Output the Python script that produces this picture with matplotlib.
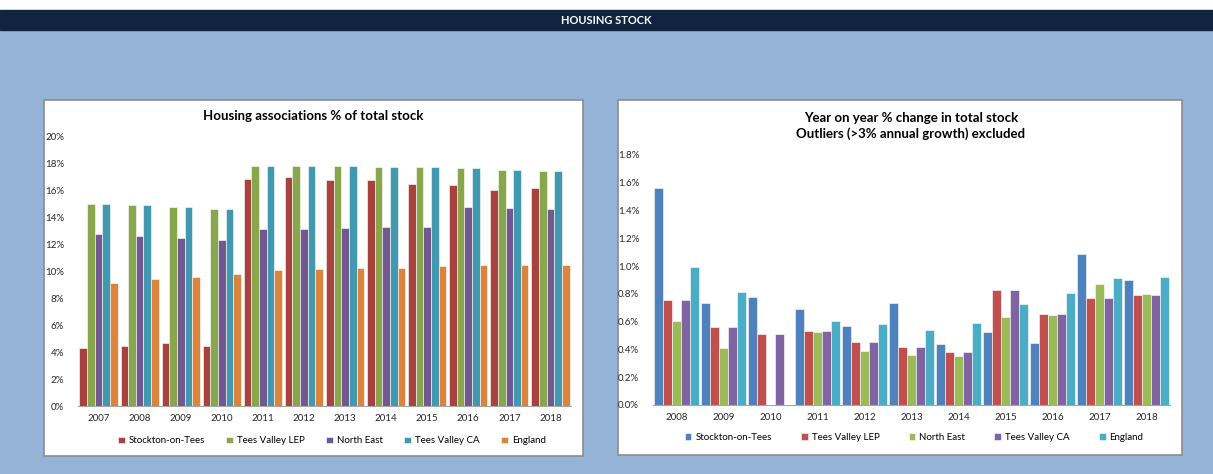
import numpy as np
import matplotlib
matplotlib.use('Agg')
from matplotlib import pyplot as plt
from matplotlib.patches import Rectangle

plt.rcParams['font.family'] = ['Lato', 'DejaVu Sans']

series = ['Stockton-on-Tees', 'Tees Valley LEP', 'North East', 'Tees Valley CA', 'England']

# housing associations % of total stock
years_a = ['2007', '2008', '2009', '2010', '2011', '2012', '2013', '2014', '2015', '2016', '2017', '2018']
stockton_a = [4.31, 4.49, 4.71, 4.46, 16.90, 17.00, 16.78, 16.78, 16.51, 16.41, 16.08, 16.18]
tv_lep_a = [15.02, 14.94, 14.80, 14.62, 17.87, 17.87, 17.87, 17.79, 17.79, 17.72, 17.55, 17.47]
north_east_a = [12.76, 12.61, 12.52, 12.37, 13.18, 13.18, 13.26, 13.33, 13.33, 14.80, 14.72, 14.62]
tv_ca_a = [15.02, 14.94, 14.80, 14.62, 17.87, 17.87, 17.87, 17.79, 17.79, 17.72, 17.55, 17.47]
england_a = [9.12, 9.42, 9.59, 9.84, 10.09, 10.16, 10.24, 10.24, 10.41, 10.51, 10.51, 10.51]

# year on year % change in total stock
years_b = ['2008', '2009', '2010', '2011', '2012', '2013', '2014', '2015', '2016', '2017', '2018']
stockton_b = [1.562, 0.737, 0.775, 0.689, 0.571, 0.737, 0.437, 0.523, 0.444, 1.090, 0.900]
tv_lep_b = [0.754, 0.562, 0.509, 0.533, 0.451, 0.421, 0.382, 0.830, 0.658, 0.768, 0.790]
north_east_b = [0.605, 0.413, 0.0, 0.523, 0.389, 0.358, 0.350, 0.631, 0.648, 0.871, 0.799]
tv_ca_b = [0.754, 0.562, 0.509, 0.533, 0.451, 0.421, 0.382, 0.830, 0.658, 0.768, 0.790]
england_b = [0.996, 0.814, 0.0, 0.605, 0.586, 0.540, 0.588, 0.727, 0.806, 0.917, 0.924]

colors_a = ['#A8423F', '#88A64B', '#71588F', '#4198AF', '#DB843D']
colors_b = ['#4F81BD', '#C0504D', '#9BBB59', '#8064A2', '#4BACC6']

W, H = 1213, 474
fig = plt.figure(figsize=(W / 100, H / 100), dpi=100)
fig.patch.set_facecolor('#95B3D7')


def px(x0, y0, x1, y1):
    # pixel box (top-left origin) -> figure fraction
    return [x0 / W, 1 - y1 / H, (x1 - x0) / W, (y1 - y0) / H]


# header strip and the two white chart boxes
bg = fig.add_axes([0, 0, 1, 1])
bg.set_xlim(0, W)
bg.set_ylim(H, 0)
bg.axis('off')
bg.add_patch(Rectangle((0, 0), W, 10, color='white'))
bg.add_patch(Rectangle((0, 10), W, 20, color='#10243F'))
bg.text(W / 2, 20, 'HOUSING STOCK', color='white', fontsize=8, fontweight='bold',
        ha='center', va='center')
bg.add_patch(Rectangle((44, 100), 539, 356, facecolor='white', edgecolor='#8C8C8C', lw=1.2))
bg.add_patch(Rectangle((618, 100), 564, 355, facecolor='white', edgecolor='#8C8C8C', lw=1.2))


def bars(ax, cats, data, colors, width):
    x = np.arange(len(cats))
    n = len(data)
    for i, (vals, c) in enumerate(zip(data, colors)):
        ax.bar(x + (i - (n - 1) / 2) * width, vals, width, color=c,
               edgecolor='white', linewidth=0.4, label=series[i])
    ax.set_xticks(x)
    ax.set_xticklabels(cats)
    ax.set_xlim(-0.5, len(cats) - 0.5)
    for s in ['top', 'right', 'left']:
        ax.spines[s].set_visible(False)
    ax.spines['bottom'].set_color('#A6A6A6')
    ax.tick_params(length=0, labelsize=7, colors='#262626')
    ax.tick_params(axis='x', pad=6)
    ax.set_facecolor('none')


ax1 = fig.add_axes(px(78, 137, 571, 406))
bars(ax1, years_a, [stockton_a, tv_lep_a, north_east_a, tv_ca_a, england_a], colors_a, 0.186)
ax1.set_ylim(0, 20)
ax1.set_yticks(np.arange(0, 21, 2))
ax1.set_yticklabels([f'{v}%' for v in range(0, 21, 2)])
ax1.tick_params(axis='y', pad=10)
fig.text(313 / W, 1 - 116 / H, 'Housing associations % of total stock', fontsize=9.5,
         fontweight='bold', ha='center', va='center')
ax1.legend(loc='center', bbox_to_anchor=(0.515, -0.13), ncol=5, frameon=False,
           fontsize=7, handlelength=0.7, handleheight=0.7, handletextpad=0.4,
           columnspacing=2.2)

ax2 = fig.add_axes(px(653, 155, 1170, 405))
bars(ax2, years_b, [stockton_b, tv_lep_b, north_east_b, tv_ca_b, england_b], colors_b, 0.195)
ax2.set_ylim(0, 1.8)
ticks_b = np.arange(0, 1.81, 0.2)
ax2.set_yticks(ticks_b)
ax2.set_yticklabels([f'{v:.1f}%' for v in ticks_b])
ax2.tick_params(axis='y', pad=10)
fig.text(911 / W, 1 - 126 / H, 'Year on year % change in total stock\nOutliers (>3% annual growth) excluded',
         fontsize=9.5, fontweight='bold', ha='center', va='center', linespacing=1.3)
ax2.legend(loc='center', bbox_to_anchor=(0.505, -0.13), ncol=5, frameon=False,
           fontsize=7, handlelength=0.7, handleheight=0.7, handletextpad=0.4,
           columnspacing=3.0)

fig.savefig('out.png', dpi=100, facecolor=fig.get_facecolor())
